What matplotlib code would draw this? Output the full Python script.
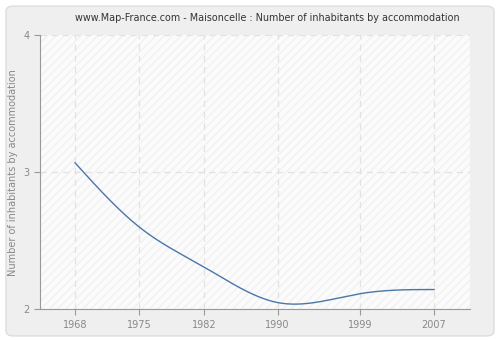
import numpy as np
import matplotlib
matplotlib.use("Agg")
import matplotlib.pyplot as plt
from matplotlib.patches import FancyBboxPatch

years = [1968, 1975, 1982, 1990, 1999, 2007]
values = [3.07, 2.60, 2.31, 2.05, 2.115, 2.145]
yticks = [2, 3, 4]
title = "www.Map-France.com - Maisoncelle : Number of inhabitants by accommodation"
ylabel = "Number of inhabitants by accommodation"


def natural_spline(x, y, xs):
    # plain natural cubic spline, only used to draw a smooth line
    x = np.asarray(x, float)
    y = np.asarray(y, float)
    n = len(x)
    h = np.diff(x)
    A = np.zeros((n, n))
    b = np.zeros(n)
    A[0, 0] = A[-1, -1] = 1
    for i in range(1, n - 1):
        A[i, i - 1] = h[i - 1]
        A[i, i] = 2 * (h[i - 1] + h[i])
        A[i, i + 1] = h[i]
        b[i] = 3 * ((y[i + 1] - y[i]) / h[i] - (y[i] - y[i - 1]) / h[i - 1])
    c = np.linalg.solve(A, b)
    out = np.empty_like(xs)
    for k, v in enumerate(xs):
        i = min(np.searchsorted(x, v, side="right") - 1, n - 2)
        i = max(i, 0)
        d = v - x[i]
        bb = (y[i + 1] - y[i]) / h[i] - h[i] * (2 * c[i] + c[i + 1]) / 3
        dd = (c[i + 1] - c[i]) / (3 * h[i])
        out[k] = y[i] + bb * d + c[i] * d ** 2 + dd * d ** 3
    return out


fig = plt.figure(figsize=(5, 3.4), dpi=100)
fig.patch.set_facecolor("white")
fig.patches.append(FancyBboxPatch((0.012, 0.012), 0.976, 0.97,
                                  boxstyle="round,pad=0,rounding_size=0.015",
                                  transform=fig.transFigure, facecolor="#efefef",
                                  edgecolor="#dddddd", linewidth=1, zorder=-5))

ax = fig.add_axes([0.08, 0.09, 0.86, 0.806])
ax.set_facecolor("#fbfbfb")
ax.add_patch(plt.Rectangle((0, 0), 1, 1, transform=ax.transAxes, facecolor="none",
                           edgecolor="#f1f1f1", hatch="////", linewidth=0, zorder=0))

xs = np.linspace(years[0], years[-1], 300)
ax.plot(xs, natural_spline(years, values, xs), color="#4a76a8", linewidth=1, zorder=3)

ax.set_xlim(1964.2, 2010.9)
ax.set_ylim(2, 4)
ax.set_xticks(years)
ax.set_yticks(yticks)
ax.grid(True, color="#e2e2e2", linestyle=(0, (5, 4)), linewidth=0.9)
for s in ["top", "right"]:
    ax.spines[s].set_visible(False)
for s in ["left", "bottom"]:
    ax.spines[s].set_color("#999999")
ax.tick_params(colors="#999999", labelcolor="#888888", labelsize=7, length=4)
ax.set_ylabel(ylabel, fontsize=7, color="#888888")
fig.text(0.535, 0.947, title, ha="center", va="center", fontsize=6.9, color="#333333")

fig.savefig("out.png", dpi=100, facecolor=fig.get_facecolor())
